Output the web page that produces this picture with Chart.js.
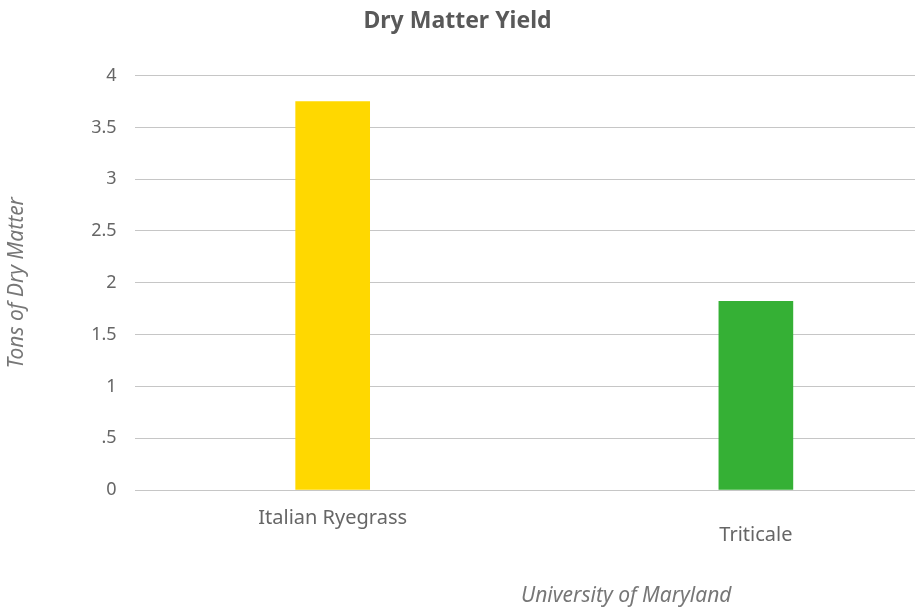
<!DOCTYPE html>
<html>
<head>
<meta charset="utf-8">
<script src="https://cdn.jsdelivr.net/npm/chart.js@4/dist/chart.umd.min.js"></script>
<style>
  html, body { margin: 0; padding: 0; background: #fff; overflow: hidden; }
  #wrap { width: 915px; height: 613px; }
</style>
</head>
<body>
<div id="wrap"><canvas id="myChart"></canvas></div>
<script>
// datos
const categorias = ['Italian Ryegrass', 'Triticale'];
const toneladas = [3.75, 1.82];
const colores = ['#FFD800', '#35B035'];
const yMax = 4;
const yPaso = 0.5;

const gris = '#666666';
const fuente = 'Noto Sans';

// pie de grafico (fuente)
const fuentePlugin = {
    id: 'fuente',
    afterDraw(chart) {
        const ctx = chart.ctx;
        const a = chart.chartArea;
        ctx.save();
        ctx.font = 'italic 21px "Noto Sans"';
        ctx.fillStyle = '#777777';
        ctx.textAlign = 'center';
        ctx.textBaseline = 'middle';
        ctx.fillText('University of Maryland', a.left + (a.right - a.left) * 0.63, chart.height - 17);
        ctx.restore();
    }
};

const ctx = document.getElementById('myChart');
new Chart(ctx, {
    type: 'bar',
    data: {
        datasets: [{
            data: categorias.map((c, i) => ({ x: i, y: toneladas[i] })),
            backgroundColor: colores,
            barThickness: 74
        }]
    },
    options: {
        responsive: true,
        maintainAspectRatio: false,
        animation: false,
        layout: { padding: { left: 0, right: 0, top: 0, bottom: 57 } },
        scales: {
            x: {
                type: 'linear',
                offset: false,
                min: -0.468,
                max: 1.376,
                afterBuildTicks: (axis) => { axis.ticks = categorias.map((c, i) => ({ value: i })); },
                grid: { display: false },
                border: { display: false },
                ticks: {
                    color: gris,
                    font: { family: fuente, size: 20, lineHeight: 0.85 },
                    padding: 12,
                    maxRotation: 0,
                    callback: (v) => v === 0 ? categorias[0] : ['', categorias[1]]
                }
            },
            y: {
                min: 0,
                max: yMax,
                grid: { color: '#C6C6C6', drawTicks: false },
                border: { display: false },
                ticks: {
                    stepSize: yPaso,
                    color: gris,
                    font: { family: fuente, size: 18 },
                    padding: 18,
                    callback: (v) => v === 0.5 ? '.5' : String(v)
                },
                title: {
                    display: true,
                    text: 'Tons of Dry Matter',
                    color: '#777777',
                    font: { family: fuente, size: 21, style: 'italic' },
                    padding: { top: 4, bottom: 44 }
                }
            }
        },
        plugins: {
            legend: { display: false },
            tooltip: { enabled: false },
            title: {
                display: true,
                text: 'Dry Matter Yield',
                color: '#595959',
                font: { family: fuente, size: 23, weight: 'bold' },
                padding: { top: 8, bottom: 40 }
            }
        }
    },
    plugins: [fuentePlugin]
});
</script>
</body>
</html>
